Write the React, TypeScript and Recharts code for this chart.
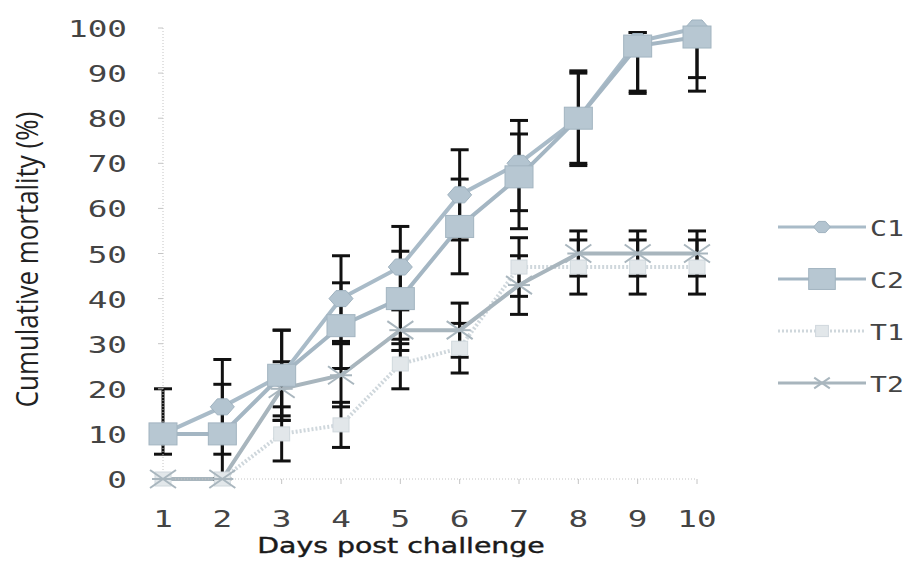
import React from 'react'
import { LineChart, Line, XAxis, YAxis, ErrorBar, Legend } from 'recharts'

// values (cumulative mortality %, error = SD)
const DAYS = [1, 2, 3, 4, 5, 6, 7, 8, 9, 10]
const Y_TICKS = [0, 10, 20, 30, 40, 50, 60, 70, 80, 90, 100]

const C1 = [10, 16, 23, 40, 47, 63, 70, 80, 97, 100]
const C1_LOW = [4.5, 10.5, 10, 9.5, 9, 10, 10.5, 10, 11, 11]
const C1_HIGH = [10, 10.5, 10, 9.5, 9, 10, 9.5, 10, 2, 0]

const C2 = [10, 10, 23, 34, 40, 56, 67, 80, 96, 98]
const C2_LOW = [0, 10, 10, 9.5, 10, 10.5, 11.5, 10.5, 10.5, 12]
const C2_HIGH = [0, 11, 10, 9.5, 10.5, 10.5, 9.5, 10.5, 3, 2]

const T1 = [0, 0, 10, 12, 25.5, 29, 47, 47, 47, 47]
const T1_ERR = [0, 0, 6, 5, 5.5, 5.5, 6.5, 6, 6, 6]

const T2 = [0, 0, 20, 23, 33, 33, 43, 50, 50, 50]
const T2_ERR = [0, 0, 6, 7, 4.5, 6, 6.5, 5, 5, 5]

const LEGEND_ORDER = ['C1', 'C2', 'T1', 'T2']

const data = DAYS.map((day, i) => ({
  day,
  C1: C1[i],
  c1Err: [C1_LOW[i], C1_HIGH[i]],
  C2: C2[i],
  c2Err: [C2_LOW[i], C2_HIGH[i]],
  T1: T1[i],
  t1Err: T1_ERR[i],
  T2: T2[i],
  t2Err: T2_ERR[i],
}))

const MONO = '"DejaVu Sans Mono", monospace'
const LEGEND_W = 139

// markers (s = size factor, legend uses smaller ones)
function diamond(cx: number, cy: number, key?: string, s = 1) {
  return (
    <path
      key={key}
      d={`M${cx - 12 * s},${cy} L${cx - 5 * s},${cy - 8 * s} L${cx + 5 * s},${cy - 8 * s} L${cx + 12 * s},${cy} L${cx + 5 * s},${cy + 8 * s} L${cx - 5 * s},${cy + 8 * s} Z`}
      fill="#b3c4d0"
      stroke="#9fb2bf"
    />
  )
}

function square(cx: number, cy: number, key?: string, s = 1) {
  return (
    <rect key={key} x={cx - 14 * s} y={cy - 11 * s} width={28 * s} height={22 * s} fill="#b7c7d2" stroke="#a2b4c0" />
  )
}

function lightSquare(cx: number, cy: number, key?: string, s = 1) {
  return <rect key={key} x={cx - 8 * s} y={cy - 7 * s} width={16 * s} height={14 * s} fill="#e2e7ea" stroke="#d0d8dd" />
}

function star(cx: number, cy: number, key?: string, s = 1) {
  return (
    <g key={key} stroke="#a9b6be" strokeWidth={2}>
      <line x1={cx - 13 * s} y1={cy - 9 * s} x2={cx + 13 * s} y2={cy + 9 * s} />
      <line x1={cx - 13 * s} y1={cy + 9 * s} x2={cx + 13 * s} y2={cy - 9 * s} />
      <line x1={cx - 11 * s} y1={cy} x2={cx + 11 * s} y2={cy} />
    </g>
  )
}

const MARKERS: Record<string, (cx: number, cy: number, key?: string, s?: number) => React.ReactElement> = {
  C1: diamond,
  C2: square,
  T1: lightSquare,
  T2: star,
}
const LEGEND_MARKER_SCALE: Record<string, number> = { C1: 0.7, C2: 0.95, T1: 0.8, T2: 0.6 }

const makeDot = (name: string) => (props: any) => {
  const { cx, cy, index } = props
  if (cx == null || cy == null) return <g key={`${name}-${index}`} />
  return MARKERS[name](cx, cy, `${name}-${index}`)
}

const YTick = ({ x, y, payload }: any) => (
  <g transform={`translate(${x - 29},${y + 9}) scale(1.42,1)`}>
    <text textAnchor="end" fontFamily={MONO} fontSize={23} fill="#444">
      {payload.value}
    </text>
  </g>
)

const XTick = ({ x, y, payload }: any) => (
  <g transform={`translate(${x},${y + 41}) scale(1.42,1)`}>
    <text textAnchor="middle" fontFamily={MONO} fontSize={23} fill="#444">
      {payload.value}
    </text>
  </g>
)

const YTitle = ({ viewBox }: any) => (
  <g transform={`translate(${viewBox.x + 38},${viewBox.y + viewBox.height / 2 + 6}) rotate(-90) scale(1.08,1.3)`}>
    <text textAnchor="middle" fontFamily='"Open Sans", sans-serif' fontSize={24} fill="#222">
      Cumulative mortality (%)
    </text>
  </g>
)

const XTitle = ({ viewBox }: any) => (
  <g transform={`translate(${viewBox.x + 238},${viewBox.y + 74}) scale(1.35,1)`}>
    <text
      textAnchor="middle"
      fontFamily='"DejaVu Sans", sans-serif'
      fontSize={21}
      fill="#1a1a1a"
      stroke="#1a1a1a"
      strokeWidth={0.4}
    >
      Days post challenge
    </text>
  </g>
)

const SeriesLegend = ({ payload }: any) => {
  const items = [...(payload || [])].sort(
    (a: any, b: any) => LEGEND_ORDER.indexOf(a.value) - LEGEND_ORDER.indexOf(b.value)
  )
  return (
    <div style={{ width: LEGEND_W }}>
      {items.map((entry: any) => (
        <svg key={entry.value} width={LEGEND_W} height={52} style={{ display: 'block', overflow: 'visible' }}>
          <line
            x1={8}
            y1={26}
            x2={96}
            y2={26}
            stroke={entry.color}
            strokeWidth={3}
            strokeDasharray={entry.value === 'T1' ? '2 2' : undefined}
          />
          {MARKERS[entry.value](52, 26, undefined, LEGEND_MARKER_SCALE[entry.value])}
          <g transform="translate(100,35) scale(1.28,1)">
            <text fontFamily={MONO} fontSize={22} fill="#444">
              {entry.value}
            </text>
          </g>
        </svg>
      ))}
    </div>
  )
}

export default function App() {
  return (
    <div style={{ width: 909, height: 572, background: '#fff' }}>
      <style>{'body{margin:0}'}</style>
      <LineChart
        width={909}
        height={572}
        data={data}
        margin={{ top: 28, right: 212 - LEGEND_W, bottom: 33, left: 0 }}
      >
        <XAxis
          dataKey="day"
          type="number"
          domain={[1, 10]}
          ticks={DAYS}
          interval={0}
          height={60}
          axisLine={{ stroke: '#c4c4c4', strokeDasharray: '1 2' }}
          tickLine={{ stroke: '#c4c4c4' }}
          tickSize={5}
          tick={<XTick />}
          label={<XTitle />}
        />
        <YAxis
          type="number"
          domain={[0, 100]}
          ticks={Y_TICKS}
          interval={0}
          width={163}
          axisLine={{ stroke: '#c4c4c4', strokeDasharray: '1 2' }}
          tickLine={{ stroke: '#c4c4c4' }}
          tickSize={5}
          tick={<YTick />}
          label={<YTitle />}
        />
        <Legend
          layout="vertical"
          align="right"
          verticalAlign="middle"
          content={<SeriesLegend />}
          wrapperStyle={{ left: 770, top: 201, right: 'auto', width: LEGEND_W }}
        />
        <Line
          dataKey="T1"
          stroke="#cfd7dc"
          strokeWidth={4}
          strokeDasharray="2 2"
          dot={makeDot('T1')}
          isAnimationActive={false}
        >
          <ErrorBar dataKey="t1Err" direction="y" width={9} stroke="#111" strokeWidth={3} isAnimationActive={false} />
        </Line>
        <Line dataKey="T2" stroke="#a8b5bd" strokeWidth={4} dot={makeDot('T2')} isAnimationActive={false}>
          <ErrorBar dataKey="t2Err" direction="y" width={9} stroke="#111" strokeWidth={3} isAnimationActive={false} />
        </Line>
        <Line dataKey="C1" stroke="#a9bbc8" strokeWidth={4} dot={makeDot('C1')} isAnimationActive={false}>
          <ErrorBar dataKey="c1Err" direction="y" width={9} stroke="#111" strokeWidth={3} isAnimationActive={false} />
        </Line>
        <Line dataKey="C2" stroke="#a4b6c3" strokeWidth={4} dot={makeDot('C2')} isAnimationActive={false}>
          <ErrorBar dataKey="c2Err" direction="y" width={9} stroke="#111" strokeWidth={3} isAnimationActive={false} />
        </Line>
      </LineChart>
    </div>
  )
}
